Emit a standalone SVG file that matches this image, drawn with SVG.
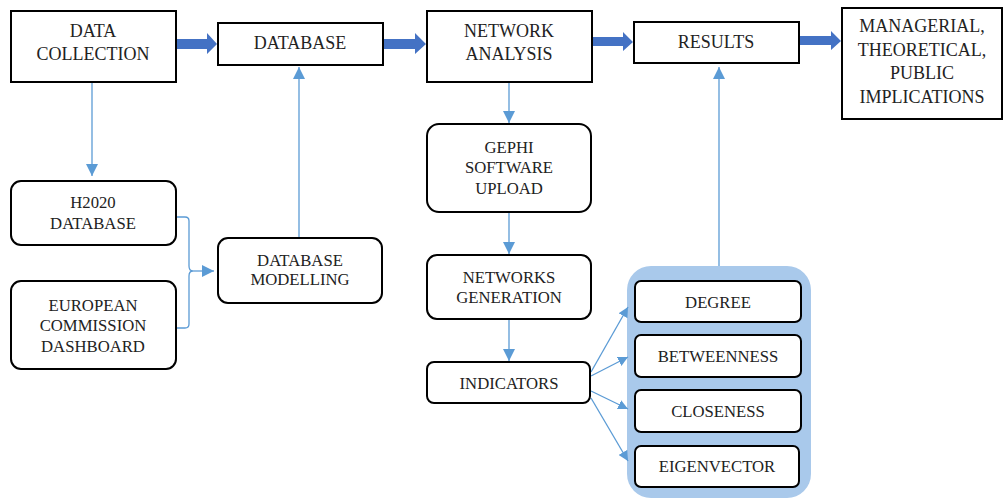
<svg xmlns="http://www.w3.org/2000/svg" width="1003" height="499" viewBox="0 0 1003 499">
<defs>
<style>
.box{fill:#fff;stroke:#000;stroke-width:2}
.t{font-family:'Liberation Serif','Times New Roman','DejaVu Serif',serif;fill:#222;text-anchor:middle}
.t18{font-size:18px}
.t17{font-size:16.7px}
.thin{fill:none;stroke:#5b9bd5;stroke-width:1.3}
.thick{fill:#4472c4}
</style>
<marker id="ah" viewBox="0 0 10 10" refX="10" refY="5" markerWidth="10" markerHeight="10" markerUnits="userSpaceOnUse" orient="auto">
<path d="M0,0 L10,5 L0,10 z" fill="#5b9bd5"/>
</marker>
<marker id="ahs" viewBox="0 0 10 10" refX="10" refY="5" markerWidth="12" markerHeight="12" markerUnits="userSpaceOnUse" orient="auto">
<path d="M0,0 L10,5 L0,10 z" fill="#5b9bd5"/>
</marker>
</defs>
<rect x="627" y="266" width="184" height="232" rx="24" fill="#a9c9eb"/>
<g id="connectors">
<polygon class="thick" points="177,39 207,39 207,33 217,44 207,54 207,49 177,49"/>
<polygon class="thick" points="383,39 415,39 415,33 426,44 415,54 415,49 383,49"/>
<polygon class="thick" points="592,37 623,37 623,32 633,42 623,51 623,46 592,46"/>
<polygon class="thick" points="799,36 831,36 831,31 841,41 831,50 831,45 799,45"/>
<line class="thin" x1="92" y1="82" x2="92" y2="176" marker-end="url(#ahs)"/>
<line class="thin" x1="299" y1="238" x2="299" y2="67" marker-end="url(#ahs)"/>
<path class="thin" d="M176,217 H185 Q189,217 189,221 V266 Q189,271 193,271 Q189,271 189,276 V324 Q189,328 185,328 H176"/>
<line class="thin" x1="193" y1="271" x2="214" y2="271" marker-end="url(#ahs)"/>
<line class="thin" x1="509" y1="82" x2="509" y2="123" marker-end="url(#ahs)"/>
<line class="thin" x1="509" y1="212" x2="509" y2="254" marker-end="url(#ahs)"/>
<line class="thin" x1="509" y1="319" x2="509" y2="361" marker-end="url(#ahs)"/>
<line class="thin" x1="719" y1="266" x2="719" y2="67" marker-end="url(#ahs)"/>
<line class="thin" x1="591" y1="372" x2="628" y2="307" marker-end="url(#ah)"/>
<line class="thin" x1="591" y1="376" x2="628" y2="357" marker-end="url(#ah)"/>
<line class="thin" x1="591" y1="391" x2="628" y2="409" marker-end="url(#ah)"/>
<line class="thin" x1="591" y1="398" x2="628" y2="461" marker-end="url(#ah)"/>
</g>
<g id="data-collection">
<rect class="box" x="11" y="11" width="165" height="71"/>
<text class="t t18" x="93" y="37">DATA</text>
<text class="t t18" x="93" y="60">COLLECTION</text>
</g>
<g id="database">
<rect class="box" x="218" y="23" width="165" height="42"/>
<text class="t t18" x="300" y="49">DATABASE</text>
</g>
<g id="network-analysis">
<rect class="box" x="427" y="11" width="165" height="71"/>
<text class="t t18" x="509" y="37">NETWORK</text>
<text class="t t18" x="509" y="60">ANALYSIS</text>
</g>
<g id="results">
<rect class="box" x="634" y="22" width="165" height="41"/>
<text class="t t18" x="716" y="48">RESULTS</text>
</g>
<g id="implications">
<rect class="box" x="842" y="8" width="160" height="111"/>
<text class="t t18" x="922" y="32">MANAGERIAL,</text>
<text class="t t18" x="922" y="56">THEORETICAL,</text>
<text class="t t18" x="922" y="79">PUBLIC</text>
<text class="t t18" x="922" y="103">IMPLICATIONS</text>
</g>
<g id="h2020">
<rect class="box" x="11" y="181" width="165" height="64" rx="10"/>
<text class="t t17" x="93" y="208">H2020</text>
<text class="t t17" x="93" y="229">DATABASE</text>
</g>
<g id="ec-dashboard">
<rect class="box" x="11" y="281" width="165" height="88" rx="10"/>
<text class="t t17" x="93" y="311">EUROPEAN</text>
<text class="t t17" x="93" y="331">COMMISSION</text>
<text class="t t17" x="93" y="352">DASHBOARD</text>
</g>
<g id="database-modelling">
<rect class="box" x="218" y="238" width="164" height="65" rx="10"/>
<text class="t t17" x="300" y="266">DATABASE</text>
<text class="t t17" x="300" y="285">MODELLING</text>
</g>
<g id="gephi">
<rect class="box" x="427" y="124" width="164" height="88" rx="12"/>
<text class="t t17" x="509" y="153">GEPHI</text>
<text class="t t17" x="509" y="173">SOFTWARE</text>
<text class="t t17" x="509" y="194">UPLOAD</text>
</g>
<g id="networks-generation">
<rect class="box" x="427" y="255" width="164" height="64" rx="10"/>
<text class="t t17" x="509" y="283">NETWORKS</text>
<text class="t t17" x="509" y="303">GENERATION</text>
</g>
<g id="indicators">
<rect class="box" x="427" y="362" width="163" height="41" rx="7"/>
<text class="t t17" x="509" y="389">INDICATORS</text>
</g>
<g id="degree">
<rect class="box" x="635" y="281" width="166" height="41" rx="6"/>
<text class="t t17" x="718" y="308">DEGREE</text>
</g>
<g id="betweenness">
<rect class="box" x="635" y="335" width="166" height="42" rx="6"/>
<text class="t t17" x="718" y="362">BETWEENNESS</text>
</g>
<g id="closeness">
<rect class="box" x="635" y="390" width="166" height="42" rx="6"/>
<text class="t t17" x="718" y="417">CLOSENESS</text>
</g>
<g id="eigenvector">
<rect class="box" x="635" y="446" width="164" height="41" rx="6"/>
<text class="t t17" x="717" y="472">EIGENVECTOR</text>
</g>
</svg>
